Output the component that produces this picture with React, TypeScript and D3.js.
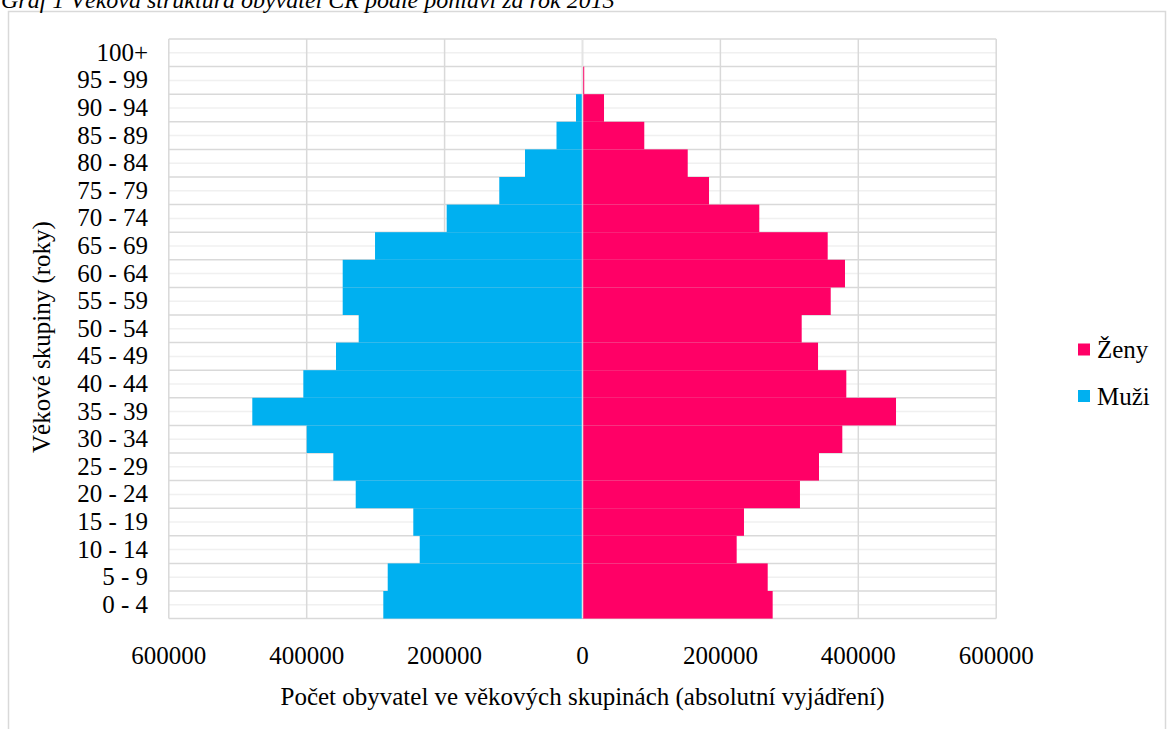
import React from "react";
import * as d3 from "d3";

const ageGroups = ["0 - 4", "5 - 9", "10 - 14", "15 - 19", "20 - 24", "25 - 29", "30 - 34", "35 - 39", "40 - 44", "45 - 49", "50 - 54", "55 - 59", "60 - 64", "65 - 69", "70 - 74", "75 - 79", "80 - 84", "85 - 89", "90 - 94", "95 - 99", "100+"];
const male = [288900, 282500, 236100, 245400, 328900, 361400, 400000, 478900, 404900, 357500, 324600, 347800, 347800, 300900, 197000, 120700, 83400, 37700, 9400, 700, 100];
const female = [275800, 268600, 223600, 234200, 315400, 343000, 376800, 454700, 382600, 341600, 317900, 360000, 380700, 355600, 256400, 183500, 152600, 89600, 31200, 2500, 300];
const xTicks = [-600000, -400000, -200000, 0, 200000, 400000, 600000];
const seriesNames = ["Ženy", "Muži"];
const titleText = "Graf 1 Věková struktura obyvatel ČR podle pohlaví za rok 2013";
const xTitle = "Počet obyvatel ve věkových skupinách (absolutní vyjádření)";
const yTitle = "Věkové skupiny (roky)";

const W = 1167, H = 729;
const FONT = "'Liberation Serif', 'Times New Roman', serif";
const BLUE = "#00B0F0";
const PINK = "#FF0066";
const GRID = "#d9d9d9";
const MINOR = "#f0f0f0";

export default function App() {
  const left = 168.8, right = 996.2, top = 39, bottom = 618.6;
  const x = d3.scaleLinear().domain([-600000, 600000]).range([left, right]);
  const y = d3.scaleBand<string>().domain([...ageGroups].reverse()).range([top, bottom]).padding(0);
  const bw = y.bandwidth();
  const fs = 25;

  return (
    <svg width={W} height={H} style={{ position: "absolute", left: 0, top: 0, background: "#fff" }} fontFamily={FONT}>
      <rect x={0} y={0} width={W} height={H} fill="#fff" />
      {/* chart frame */}
      <rect x={8.5} y={11.5} width={1157} height={740} fill="#fff" stroke={GRID} strokeWidth={1.5} />
      {/* cut-off title */}
      <text x={1} y={8} fontSize={24} fontStyle="italic" fill="#000">{titleText}</text>

      {/* minor horizontal gridlines */}
      {ageGroups.map((g) => (
        <line key={"m" + g} x1={left} x2={right} y1={(y(g) as number) + bw / 2} y2={(y(g) as number) + bw / 2} stroke={MINOR} strokeWidth={1.5} />
      ))}
      {/* major horizontal gridlines */}
      {ageGroups.map((g) => (
        <line key={"M" + g} x1={left} x2={right} y1={y(g) as number} y2={y(g) as number} stroke={GRID} strokeWidth={1.5} />
      ))}
      <line x1={left} x2={right} y1={bottom} y2={bottom} stroke={GRID} strokeWidth={1.5} />
      {/* vertical gridlines */}
      {xTicks.map((t) => (
        <line key={"v" + t} x1={x(t)} x2={x(t)} y1={top} y2={bottom} stroke={GRID} strokeWidth={1.5} />
      ))}

      {/* bars */}
      {ageGroups.map((g, i) => (
        <rect key={"mb" + g} x={x(-male[i])} y={y(g) as number} width={x(0) - x(-male[i])} height={bw} fill={BLUE} />
      ))}
      {ageGroups.map((g, i) => (
        <rect key={"fb" + g} x={x(0)} y={y(g) as number} width={x(female[i]) - x(0)} height={bw} fill={PINK} />
      ))}
      <line x1={x(0)} x2={x(0)} y1={top} y2={bottom} stroke="#e4e4e4" strokeWidth={1.5} />

      {/* y labels */}
      {ageGroups.map((g) => (
        <text key={"yl" + g} x={148} y={(y(g) as number) + bw / 2 + 8} textAnchor="end" fontSize={fs} fill="#000">{g}</text>
      ))}
      {/* x labels */}
      {xTicks.map((t) => (
        <text key={"xl" + t} x={x(t)} y={664} textAnchor="middle" fontSize={fs} fill="#000">{Math.abs(t)}</text>
      ))}
      {/* axis titles */}
      <text x={(left + right) / 2} y={705} textAnchor="middle" fontSize={fs} fill="#000">{xTitle}</text>
      <text transform={`translate(50, 337) rotate(-90)`} textAnchor="middle" fontSize={fs} fill="#000">{yTitle}</text>

      {/* legend */}
      {seriesNames.map((s, i) => (
        <g key={s} transform={`translate(1078, ${349.5 + i * 46.5})`}>
          <rect x={0} y={-6} width={12} height={12} fill={i === 0 ? PINK : BLUE} />
          <text x={19} y={8.5} fontSize={fs} fill="#000">{s}</text>
        </g>
      ))}
    </svg>
  );
}
